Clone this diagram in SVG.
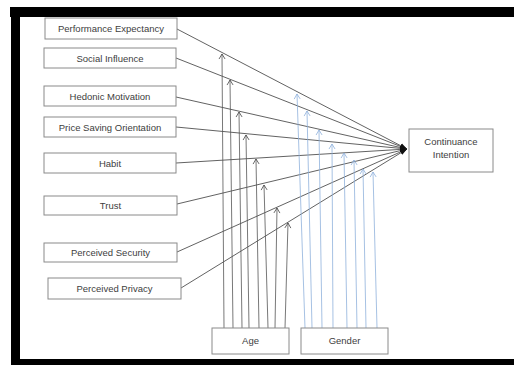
<svg xmlns="http://www.w3.org/2000/svg" width="514" height="365" viewBox="0 0 514 365">
<defs>
<style>
.box{fill:#fff;stroke:#8a8a8a;stroke-width:1}
.lbl{font-family:"Liberation Sans",Arial,sans-serif;font-size:9.5px;fill:#404040;text-anchor:middle}
.ln{fill:none;stroke:#3a3a3a;stroke-width:0.8;marker-end:url(#filled)}
.age{fill:none;stroke:#555;stroke-width:0.8;marker-end:url(#openK)}
.gen{fill:none;stroke:#8fb1dc;stroke-width:0.8;marker-end:url(#openB)}
</style>
<marker id="filled" markerWidth="8" markerHeight="8" refX="7" refY="4" orient="auto" markerUnits="userSpaceOnUse"><path d="M0,1.5 L7,4 L0,6.5z" fill="#111"/></marker>
<marker id="openK" markerWidth="8" markerHeight="8" refX="6" refY="4" orient="auto" markerUnits="userSpaceOnUse"><path d="M1,1 L6,4 L1,7" fill="none" stroke="#444" stroke-width="0.8"/></marker>
<marker id="openB" markerWidth="8" markerHeight="8" refX="6" refY="4" orient="auto" markerUnits="userSpaceOnUse"><path d="M1,1 L6,4 L1,7" fill="none" stroke="#8fb1dc" stroke-width="0.8"/></marker>
</defs>
<rect x="0" y="0" width="514" height="365" fill="#fff"/>
<g id="frame" fill="#000">
<rect x="10" y="7" width="504" height="10"/>
<rect x="11" y="7" width="9" height="358"/>
<rect x="11" y="359" width="503" height="6"/>
</g>
<g id="connectors">
<path class="ln" d="M177,29 L407,149"/>
<path class="ln" d="M176,58 L407,149"/>
<path class="ln" d="M176,97 L407,149"/>
<path class="ln" d="M176,127 L407,149"/>
<path class="ln" d="M176,163 L407,149"/>
<path class="ln" d="M177,204 L407,149"/>
<path class="ln" d="M177,252 L407,149"/>
<path class="ln" d="M181,288 L407,149"/>
<path class="age" d="M224,328 L222,54"/>
<path class="age" d="M233,328 L230,80"/>
<path class="age" d="M242,328 L239,112"/>
<path class="age" d="M249,328 L246,135"/>
<path class="age" d="M259,328 L256,159"/>
<path class="age" d="M268,328 L264,185"/>
<path class="age" d="M275,328 L277,208"/>
<path class="age" d="M285,328 L288,223"/>
<path class="gen" d="M305,328 L297,94"/>
<path class="gen" d="M312,328 L307,111"/>
<path class="gen" d="M322,328 L319,130"/>
<path class="gen" d="M333,328 L332,144"/>
<path class="gen" d="M347,328 L344,153"/>
<path class="gen" d="M357,328 L354,160"/>
<path class="gen" d="M366,328 L363,169"/>
<path class="gen" d="M377,328 L373,172"/>
</g>
<g id="pe"><rect class="box" x="45" y="18" width="132" height="21"/><text class="lbl" x="111" y="32">Performance Expectancy</text></g>
<g id="si"><rect class="box" x="44" y="48" width="132" height="20"/><text class="lbl" x="110" y="61.5">Social Influence</text></g>
<g id="hm"><rect class="box" x="44" y="86" width="132" height="20"/><text class="lbl" x="110" y="99.5">Hedonic Motivation</text></g>
<g id="pso"><rect class="box" x="44" y="117" width="132" height="20"/><text class="lbl" x="110" y="130.5">Price Saving Orientation</text></g>
<g id="habit"><rect class="box" x="44" y="153" width="132" height="20"/><text class="lbl" x="110" y="166.5">Habit</text></g>
<g id="trust"><rect class="box" x="44" y="196" width="133" height="19"/><text class="lbl" x="110.5" y="209">Trust</text></g>
<g id="ps"><rect class="box" x="44" y="243" width="133" height="19"/><text class="lbl" x="110.5" y="256">Perceived Security</text></g>
<g id="pp"><rect class="box" x="48" y="278" width="133" height="21"/><text class="lbl" x="114.5" y="292">Perceived Privacy</text></g>
<g id="ci"><rect class="box" x="409" y="129" width="84" height="43"/><text class="lbl" x="451" y="145">Continuance</text><text class="lbl" x="451" y="158">Intention</text></g>
<g id="age"><rect class="box" x="212" y="328" width="77" height="26"/><text class="lbl" x="250.5" y="344">Age</text></g>
<g id="gender"><rect class="box" x="301" y="328" width="87" height="26"/><text class="lbl" x="344.5" y="344">Gender</text></g>
</svg>
